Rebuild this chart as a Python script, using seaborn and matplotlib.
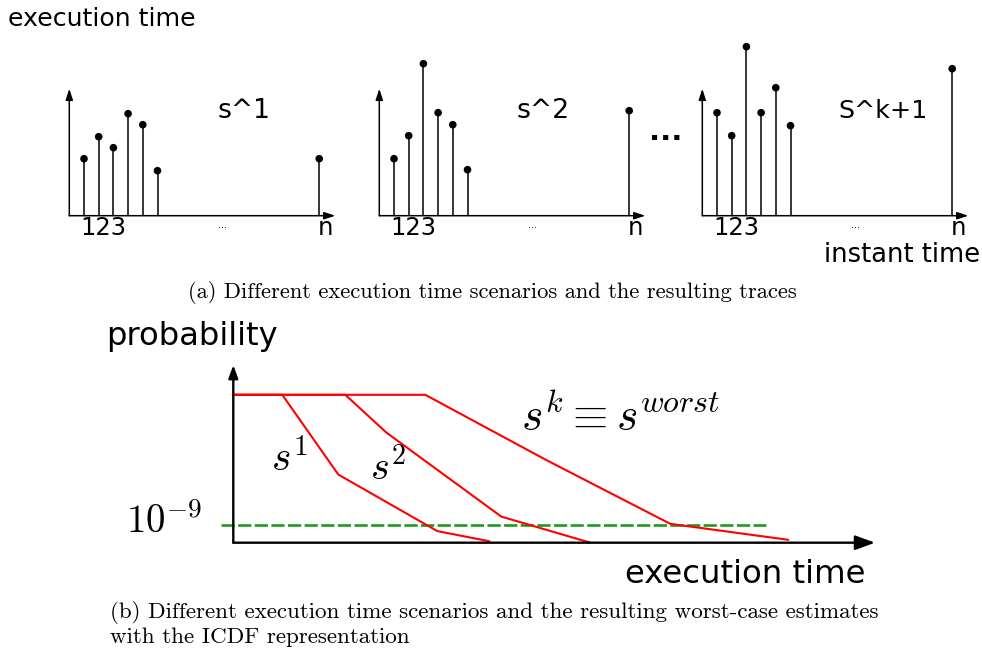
import matplotlib
matplotlib.use("Agg")
import matplotlib.pyplot as plt
import numpy as np
import pandas as pd
import seaborn as sns

# ---------------------------------------------------------------------------
# (a) execution-time traces: one stem per instant, plus the last instant n
# ---------------------------------------------------------------------------
instants = [1, 2, 3, 4, 5, 6]
last_instant = 17
trace_s1 = [57, 79, 68, 102, 91, 45]
trace_s2 = [57, 80, 152, 103, 91, 46]
trace_sk1 = [103, 80, 169, 103, 128, 90]
last_values = [57, 105, 147]
trace_names = ["s^1", "s^2", "S^k+1"]
instant_ticks = "123"
last_tick = "n"

# ---------------------------------------------------------------------------
# (b) ICDF of each scenario: execution time vs log10(exceedance probability)
# ---------------------------------------------------------------------------
icdf_time_s1 = [0, 49, 105, 204, 256]
icdf_logp_s1 = [0.0, 0.0, -5.5, -9.4, -10.1]
icdf_time_s2 = [0, 112, 153, 268, 357]
icdf_logp_s2 = [0.0, 0.0, -2.6, -8.4, -10.2]
icdf_time_sk = [0, 192, 313, 437, 555]
icdf_logp_sk = [0.0, 0.0, -4.5, -8.9, -10.0]
threshold_logp = -9
curve_names = [r"$s^1$", r"$s^2$", r"$s^k \equiv s^{worst}$"]

sns.set_theme(style="white")
plt.rcParams["font.family"] = ["DejaVu Sans"]
plt.rcParams["mathtext.fontset"] = "cm"
plt.rcParams["text.color"] = "black"

W, H = 982, 651
fig = plt.figure(figsize=(W / 100, H / 100), dpi=100)
fig.patch.set_facecolor("white")


def px_axes(left, top, right, bottom, ox, oy, sx, sy, y0=0.0):
    """Axes placed by pixel box; data (0, y0) sits at pixel (ox, oy)."""
    ax = fig.add_axes([left / W, 1 - bottom / H, (right - left) / W, (bottom - top) / H])
    ax.set_xlim((left - ox) / sx, (right - ox) / sx)
    ax.set_ylim(y0 + (oy - bottom) / sy, y0 + (oy - top) / sy)
    ax.set_axis_off()
    return ax


def ftext(x, y, s, **kw):
    kw.setdefault("va", "baseline")
    kw.setdefault("ha", "left")
    kw.setdefault("color", "black")
    fig.text(x / W, 1 - y / H, s, **kw)


def arrow(ax, start, end, lw, style, scale):
    ax.annotate("", xy=end, xytext=start, annotation_clip=False,
                arrowprops=dict(arrowstyle=style, lw=lw, color="black",
                                mutation_scale=scale, shrinkA=0, shrinkB=0))


# ---- panel (a) -----------------------------------------------------------
traces = [trace_s1, trace_s2, trace_sk1]
origins = [69.3, 379.3, 702.3]
name_x = [10.05, 9.35, 9.25]
name_size = [19.2, 19.2, 18.3]
for trace, last, ox, name, nx, ns in zip(traces, last_values, origins,
                                         trace_names, name_x, name_size):
    ax = px_axes(ox - 12, 35, ox + 280, 245, ox, 215.7, 14.7, 1.0)
    xs = instants + [last_instant]
    ys = trace + [last]
    df = pd.DataFrame({"instant": xs, "time": ys})
    ax.vlines(df["instant"], 0, df["time"], color="black", lw=1.1)
    sns.scatterplot(data=df, x="instant", y="time", ax=ax, color="black",
                    s=30, edgecolor="none", zorder=3, clip_on=False)
    ax.set_axis_off()
    arrow(ax, (0, 0), (0, 127), 1.1, "-|>,head_length=0.55,head_width=0.18", 12)
    arrow(ax, (0, 0), (18.1, 0), 1.1, "-|>,head_length=0.55,head_width=0.18", 12)
    ax.text(0.72, -19.5, instant_ticks, fontsize=17.5, ha="left", va="baseline", color="black")
    ax.text(17.45, -19.5, last_tick, fontsize=17.5, ha="center", va="baseline", color="black")
    ax.text(10.4, -12.0, "...", fontsize=7, ha="center", va="baseline", color="black")
    ax.text(nx, 97.5, name, fontsize=ns, ha="left", va="baseline", color="black")

ftext(8, 26, "execution time", fontsize=18.2)
ftext(824, 262, "instant time", fontsize=18.5)
ftext(666, 140, "...", fontsize=21, fontweight="bold", ha="center")
ftext(188, 298, "(a) Different execution time scenarios and the resulting traces",
      fontsize=16.2, family="cmr10")

# ---- panel (b) -----------------------------------------------------------
axb = px_axes(100, 350, 900, 600, 233.3, 542.7, 1.0, 14.5, y0=-10.2)
curves = pd.concat([
    pd.DataFrame({"time": t, "logp": p, "scenario": n})
    for t, p, n in zip([icdf_time_s1, icdf_time_s2, icdf_time_sk],
                       [icdf_logp_s1, icdf_logp_s2, icdf_logp_sk],
                       ["s1", "s2", "sk"])
])
sns.lineplot(data=curves, x="time", y="logp", units="scenario", estimator=None,
             sort=False, color="#ff0000", lw=1.5, ax=axb, legend=False, zorder=3)
axb.set_axis_off()
axb.plot([-12.6, 532.7], [threshold_logp, threshold_logp], color="#1f9a1f",
         lw=1.9, dashes=(5, 1.3), zorder=2)
arrow(axb, (0, -10.2), (0, 2.05), 1.7, "-|>,head_length=0.55,head_width=0.2", 14)
arrow(axb, (0, -10.2), (641.7, -10.2), 1.7, "-|>,head_length=0.6,head_width=0.22", 20)

ftext(106, 345, "probability", fontsize=23.2)
ftext(625, 583, "execution time", fontsize=23.3)
ftext(126, 533, r"$10^{-9}$", fontsize=28)
ftext(271, 472, curve_names[0], fontsize=30)
ftext(370, 480, curve_names[1], fontsize=29)
ftext(521, 430, curve_names[2], fontsize=32.8)
ftext(110, 618, "(b) Different execution time scenarios and the resulting worst-case estimates",
      fontsize=16.6, family="cmr10")
ftext(110, 643, "with the ICDF representation", fontsize=16.6, family="cmr10")

fig.savefig("out.png", dpi=100, facecolor="white")
